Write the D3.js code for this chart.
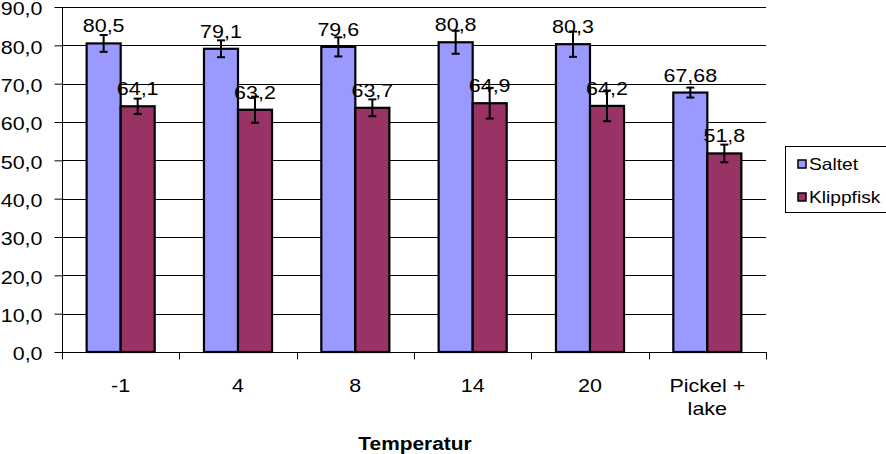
<!DOCTYPE html>
<html><head><meta charset="utf-8">
<script src="https://cdn.jsdelivr.net/npm/d3@7"></script>
<style>body{margin:0;background:#fff}svg{display:block;font-family:"Liberation Sans",Arial,sans-serif}</style>
</head><body><svg id="c" width="886" height="454"></svg>
<script>
const categories = ["-1", "4", "8", "14", "20", "Pickel +\nlake"];
const seriesNames = ["Saltet", "Klippfisk"];
const saltet = [80.5, 79.1, 79.6, 80.8, 80.3, 67.68];
const klippfisk = [64.1, 63.2, 63.7, 64.9, 64.2, 51.8];
const saltetLabels = ["80,5", "79,1", "79,6", "80,8", "80,3", "67,68"];
const klippfiskLabels = ["64,1", "63,2", "63,7", "64,9", "64,2", "51,8"];
const saltetErr = [2.2, 2.2, 2.5, 3.0, 3.3, 1.3];
const klippfiskErr = [2.0, 3.4, 2.2, 4.0, 4.0, 2.3];
const yTicks = [0, 10, 20, 30, 40, 50, 60, 70, 80, 90];
const colors = ["#9999FF", "#993366"];

const FS = 18.5, STRETCH = 1.16;
const svg = d3.select("#c");
const x0 = d3.scaleBand().domain(categories).range([62, 766]).paddingInner(0.42).paddingOuter(0.21);
const x1 = d3.scaleBand().domain(seriesNames).range([0, x0.bandwidth()]);
const y = d3.scaleLinear().domain([0, 90]).range([352, 7]);

// gridlines
svg.append("g").selectAll("line").data(yTicks.slice(1)).join("line")
  .attr("x1", 62).attr("x2", 766).attr("y1", d => Math.round(y(d)) + 0.5).attr("y2", d => Math.round(y(d)) + 0.5)
  .attr("stroke", "#000").attr("stroke-width", 1);

const series = [
  {name: "Saltet", vals: saltet, err: saltetErr, labels: saltetLabels, color: colors[0]},
  {name: "Klippfisk", vals: klippfisk, err: klippfiskErr, labels: klippfiskLabels, color: colors[1]}
];

series.forEach(s => {
  const g = svg.append("g");
  g.selectAll("rect").data(s.vals).join("rect")
    .attr("x", (d, i) => x0(categories[i]) + x1(s.name))
    .attr("y", d => y(d))
    .attr("width", x1.bandwidth())
    .attr("height", d => y(0) - y(d))
    .attr("fill", s.color).attr("stroke", "#000").attr("stroke-width", 2.2);
});

// y axis
const yAxis = d3.axisLeft(y).tickValues(yTicks).tickSize(8).tickPadding(12).tickFormat(d => d.toFixed(1).replace(".", ","));
const ya = svg.append("g").attr("transform", "translate(62.5,0)").call(yAxis);
ya.attr("font-size", null).attr("font-family", null);
ya.select(".domain").attr("stroke", "#000").attr("d", "M0," + y(90) + "V" + y(0));
ya.selectAll("line").attr("stroke", "#000");
ya.selectAll("text").attr("class", "st").attr("font-size", FS).attr("fill", "#000").attr("dy", "0.42em");

// x axis
const xa = svg.append("g").attr("transform", "translate(0," + (y(0) + 0.5) + ")");
xa.append("line").attr("x1", 62).attr("x2", 767).attr("stroke", "#000");
const bounds = categories.map(c => x0(c) - x0.step() * x0.paddingInner() / 2).concat([766]);
bounds[0] = 62;
xa.selectAll("line.tk").data(bounds).join("line").attr("class", "tk")
  .attr("x1", d => Math.round(d) + 0.5).attr("x2", d => Math.round(d) + 0.5).attr("y1", 0).attr("y2", 7).attr("stroke", "#000");
categories.forEach(c => {
  const lines = c.split("\n");
  const cx = x0(c) + x0.bandwidth() / 2;
  lines.forEach((l, i) => svg.append("text").attr("class", "st").attr("x", cx).attr("y", 392 + i * 23)
    .attr("text-anchor", "middle").attr("font-size", FS).attr("fill", "#000").text(l));
});

// error bars + labels
series.forEach(s => {
  const g = svg.append("g");
  s.vals.forEach((v, i) => {
    const cx = x0(categories[i]) + x1(s.name) + x1.bandwidth() / 2;
    g.append("line").attr("x1", cx).attr("x2", cx).attr("y1", y(v + s.err[i])).attr("y2", y(v - s.err[i])).attr("stroke", "#000").attr("stroke-width", 2);
    [v + s.err[i], v - s.err[i]].forEach(e => g.append("line").attr("x1", cx - 4).attr("x2", cx + 4).attr("y1", y(e)).attr("y2", y(e)).attr("stroke", "#000").attr("stroke-width", 2));
    g.append("text").attr("class", "st").attr("x", cx).attr("y", y(v) - 11).attr("text-anchor", "middle").attr("font-size", FS).attr("fill", "#000").text(s.labels[i]);
  });
});

// axis title
svg.append("text").attr("class", "st").attr("x", 415).attr("y", 450).attr("text-anchor", "middle").attr("font-size", 18).attr("font-weight", "bold").attr("fill", "#000").text("Temperatur");

// legend
const lg = svg.append("g");
lg.append("rect").attr("x", 785.5).attr("y", 146.5).attr("width", 110).attr("height", 66).attr("fill", "#fff").attr("stroke", "#000");
series.forEach((s, i) => {
  const yy = 164 + i * 33;
  lg.append("rect").attr("x", 798).attr("y", yy - 4).attr("width", 8).attr("height", 8).attr("fill", s.color).attr("stroke", "#000").attr("stroke-width", 1.5);
  lg.append("text").attr("class", "st").attr("x", 809).attr("y", yy + 6).attr("font-size", 16.5).attr("fill", "#000").text(s.name);
});

// horizontal stretch of text to match reference glyph proportions
svg.selectAll("text.st").each(function() {
  const w = this.getComputedTextLength();
  this.setAttribute("textLength", (w * STRETCH).toFixed(1));
  this.setAttribute("lengthAdjust", "spacingAndGlyphs");
});
</script></body></html>
